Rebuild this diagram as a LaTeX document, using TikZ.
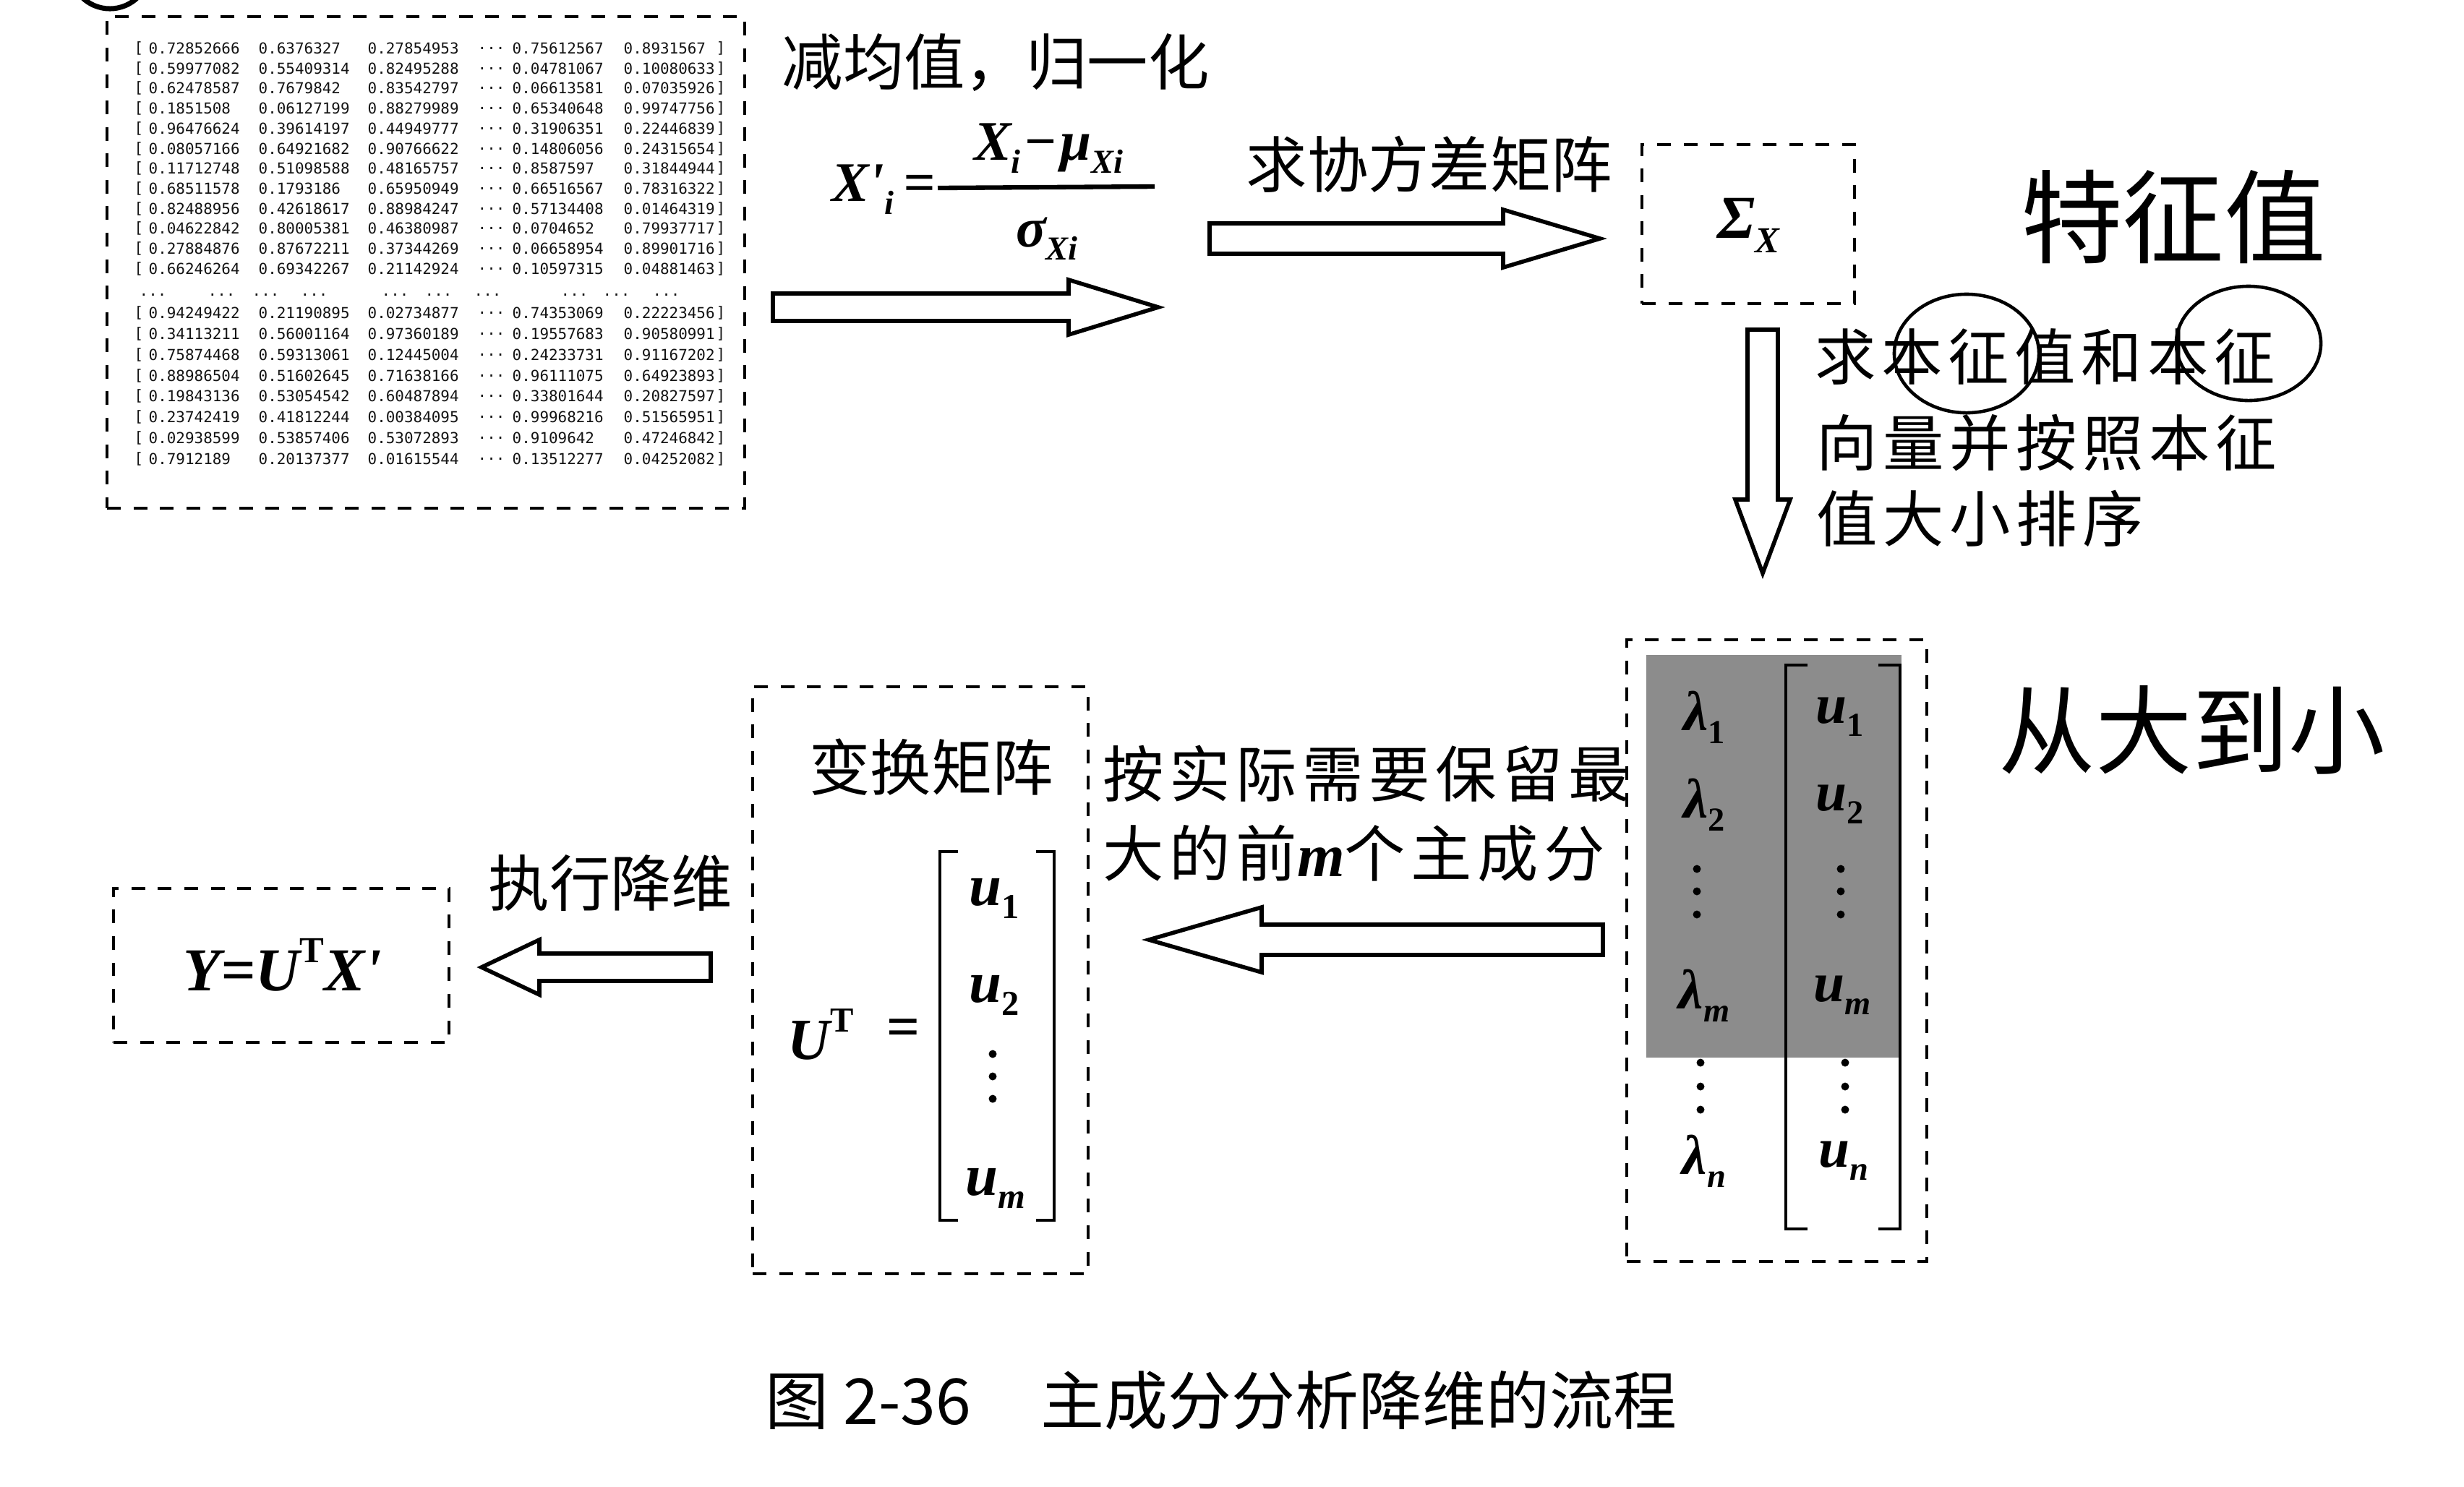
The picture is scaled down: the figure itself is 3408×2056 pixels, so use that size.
\documentclass[tikz,border=0pt]{standalone}
\usepackage{graphicx}
\usepackage{fontspec}
\setmainfont{Liberation Serif}
\newfontfamily\cjk{Noto Sans CJK SC}
\newfontfamily\cjksp[LetterSpace=9]{Noto Sans CJK SC}
\newfontfamily\mono{DejaVu Sans Mono}
\usetikzlibrary{fit}
\newcommand\lowsub[1]{\raisebox{-0.5ex}{\scalebox{0.6}{#1}}}
\newcommand\hisup[1]{\raisebox{1.0ex}{\scalebox{0.6}{\upshape #1}}}
\tikzset{
  mtx/.style={font=\mono\fontsize{5.95}{7}\selectfont, text=black!92, inner sep=0pt, anchor=west},
  dbox/.style={draw, line width=1.4pt, dash pattern=on 5.4pt off 5pt, inner sep=0pt},
  barrow/.style={draw, line width=1.6pt, fill=white, line join=miter},
  cjkt/.style={font=\cjk\fontsize{24}{28}\selectfont, inner sep=0pt},
  cjks/.style={font=\cjksp\fontsize{24}{28}\selectfont, inner sep=0pt},
  mth/.style={font=\fontsize{24}{28}\selectfont\bfseries\itshape, inner sep=0pt},
  hand/.style={font=\cjk\fontsize{40}{44}\selectfont, inner sep=0pt},
  pen/.style={line width=1.3pt},
  brk/.style={line width=1.2pt},
}
\begin{document}
\begin{tikzpicture}[x=0.01cm, y=-0.01cm]
\useasboundingbox (0,0) rectangle (3408,2056);
\clip (0,0) rectangle (3408,2056);
\fill[white] (0,0) rectangle (3408,2056);

% partial circled mark at the top-left edge
\draw[line width=2pt] (152,-43) circle [radius=0.55cm];

% ---------- data matrix ----------
\node[dbox, fit={(148,23) (1030,703)}] (matbox) {};
\foreach \yy/\ca/\cb/\cc/\cd/\ce in {
67/0.72852666/0.6376327/0.27854953/0.75612567/0.8931567,
95/0.59977082/0.55409314/0.82495288/0.04781067/0.10080633,
122/0.62478587/0.7679842/0.83542797/0.06613581/0.07035926,
150/0.1851508/0.06127199/0.88279989/0.65340648/0.99747756,
178/0.96476624/0.39614197/0.44949777/0.31906351/0.22446839,
206/0.08057166/0.64921682/0.90766622/0.14806056/0.24315654,
233/0.11712748/0.51098588/0.48165757/0.8587597/0.31844944,
261/0.68511578/0.1793186/0.65950949/0.66516567/0.78316322,
289/0.82488956/0.42618617/0.88984247/0.57134408/0.01464319,
316/0.04622842/0.80005381/0.46380987/0.0704652/0.79937717,
344/0.27884876/0.87672211/0.37344269/0.06658954/0.89901716,
372/0.66246264/0.69342267/0.21142924/0.10597315/0.04881463,
433/0.94249422/0.21190895/0.02734877/0.74353069/0.22223456,
462/0.34113211/0.56001164/0.97360189/0.19557683/0.90580991,
491/0.75874468/0.59313061/0.12445004/0.24233731/0.91167202,
520/0.88986504/0.51602645/0.71638166/0.96111075/0.64923893,
548/0.19843136/0.53054542/0.60487894/0.33801644/0.20827597,
577/0.23742419/0.41812244/0.00384095/0.99968216/0.51565951,
606/0.02938599/0.53857406/0.53072893/0.9109642/0.47246842,
635/0.7912189/0.20137377/0.01615544/0.13512277/0.04252082}{
  \node[mtx] (ra\yy) at (185,\yy) {[};
  \node[mtx] (rb\yy) at (205,\yy) {\ca};
  \node[mtx] (rc\yy) at (357,\yy) {\cb};
  \node[mtx] (rd\yy) at (508,\yy) {\cc};
  \node[mtx] (re\yy) at (660,\yy) {...};
  \node[mtx] (rf\yy) at (708,\yy) {\cd};
  \node[mtx] (rg\yy) at (862,\yy) {\ce};
  \node[mtx] (rh\yy) at (990,\yy) {]};
}
\foreach \xx in {192,287,348,415,527,587,655,775,833,902}
  \node[mtx] (dd\xx) at (\xx,408) {...};

% ---------- step 1: normalisation ----------
\node[cjkt, anchor=west] (t1) at (1081,87) {减均值，归一化};
\node[mth, font=\fontsize{22}{26}\selectfont\bfseries\itshape, anchor=east] (lhs) at (1294,262) {X\textquotesingle\lowsub{i}\,=};
\node[mth, font=\fontsize{22}{26}\selectfont\bfseries\itshape] (num) at (1450,205) {X\lowsub{i}\kern0.05em−\kern0.05emμ\lowsub{Xi}};
\node[mth, font=\fontsize{22}{26}\selectfont\bfseries\itshape] (den) at (1448,330) {σ\lowsub{Xi}};
\draw[line width=1.8pt] (1297,260) -- (1597,258);
\draw[barrow] (1069,406) -- (1478,406) -- (1478,387) -- (1602,425) -- (1478,463) -- (1478,444) -- (1069,444) -- cycle;

% ---------- step 2: covariance ----------
\node[cjkt, anchor=west] (t2) at (1723,227) {求协方差矩阵};
\draw[barrow] (1673,309) -- (2079,309) -- (2079,290) -- (2213,330) -- (2079,370) -- (2079,351) -- (1673,351) -- cycle;
\node[dbox, fit={(2271,200) (2565,420)}] (sigbox) {};
\node[mth] (sig) at (2418,312) {Σ\lowsub{X}};

% handwritten note
\node[hand] (h1) at (3006,300) {特征值};

% ---------- step 3: eigen decomposition ----------
\draw[barrow] (2417,456) -- (2417,691) -- (2400,691) -- (2438,793) -- (2476,691) -- (2459,691) -- (2459,456) -- cycle;
\node[cjks, anchor=west] (t3a) at (2510,493) {求本征值和本征};
\node[cjks, anchor=west] (t3b) at (2512,612) {向量并按照本征};
\node[cjks, anchor=west] (t3c) at (2512,717) {值大小排序};
\draw[pen] (2720,489) ellipse [x radius=1.0cm, y radius=0.82cm];
\draw[pen] (3110,475) ellipse [x radius=1.0cm, y radius=0.79cm];
\node[hand, font=\cjk\fontsize{38}{42}\selectfont] (h2) at (3032,1010) {从大到小};

% eigen box
\node[dbox, fit={(2250,885) (2665,1745)}] (eigbox) {};
\fill[black!45] (2277,906) rectangle (2630,1463);
\draw[brk] (2500,920) -- (2470,920) -- (2470,1700) -- (2500,1700);
\draw[brk] (2598,920) -- (2628,920) -- (2628,1700) -- (2598,1700);
\begin{scope}[mth, font=\fontsize{22}{26}\selectfont\bfseries\itshape]
\node (l1) at (2357,992) {λ\lowsub{\upshape 1}};
\node (l2) at (2357,1113) {λ\lowsub{\upshape 2}};
\node (lm) at (2357,1377) {λ\lowsub{m}};
\node (ln) at (2357,1606) {λ\lowsub{n}};
\node (e1) at (2545,992) {u\lowsub{\upshape 1}};
\node (e2) at (2545,1113) {u\lowsub{\upshape 2}};
\node (em) at (2548,1377) {u\lowsub{m}};
\node (en) at (2550,1606) {u\lowsub{n}};
\end{scope}
\foreach \yy in {1202,1233,1265} {\fill (2347,\yy) circle (0.055cm); \fill (2546,\yy) circle (0.055cm);}
\foreach \yy in {1470,1503,1535} {\fill (2352,\yy) circle (0.055cm); \fill (2552,\yy) circle (0.055cm);}

% ---------- step 4: keep first m ----------
\node[cjks, anchor=west] (t4a) at (1525,1070) {按实际需要保留最};
\node[cjks, anchor=west] (t4b) at (1525,1180) {大的前{\fontspec{Liberation Serif}\bfseries\itshape m}个主成分};
\draw[barrow] (2217,1279) -- (1745,1279) -- (1745,1255) -- (1589,1300) -- (1745,1345) -- (1745,1321) -- (2217,1321) -- cycle;

% transform matrix box
\node[dbox, fit={(1041,950) (1505,1762)}] (ubox) {};
\node[cjkt] (t5) at (1288,1061) {变换矩阵};
\node[mth, font=\fontsize{23}{26}\selectfont\bfseries\itshape] (ut) at (1135,1431) {U\hisup{\bfseries T}};
\node[mth, font=\fontsize{23}{26}\selectfont\bfseries] (eq) at (1250,1429) {=};
\draw[brk] (1325,1178) -- (1300,1178) -- (1300,1688) -- (1325,1688);
\draw[brk] (1433,1178) -- (1458,1178) -- (1458,1688) -- (1433,1688);
\begin{scope}[mth, font=\fontsize{23}{26}\selectfont\bfseries\itshape]
\node (v1) at (1375,1243) {u\lowsub{\upshape 1}};
\node (v2) at (1375,1377) {u\lowsub{\upshape 2}};
\node (vm) at (1377,1644) {u\lowsub{m}};
\end{scope}
\foreach \yy in {1458,1489,1520} \fill (1373,\yy) circle (0.055cm);

% ---------- step 5: projection ----------
\node[cjkt, anchor=west] (t6) at (675,1221) {执行降维};
\draw[barrow] (983,1319) -- (746,1319) -- (746,1300) -- (666,1338) -- (746,1376) -- (746,1357) -- (983,1357) -- cycle;
\node[dbox, fit={(157,1229) (621,1442)}] (ybox) {};
\node[mth] (yeq) at (391,1335) {Y=U\hisup{\bfseries T}X\textquotesingle};

% ---------- caption ----------
\node[cjkt, font=\cjk\fontsize{25}{28}\selectfont, anchor=west] (cap) at (1058,1937) {图 2-36\hspace{1.1em}主成分分析降维的流程};
\end{tikzpicture}
\end{document}
